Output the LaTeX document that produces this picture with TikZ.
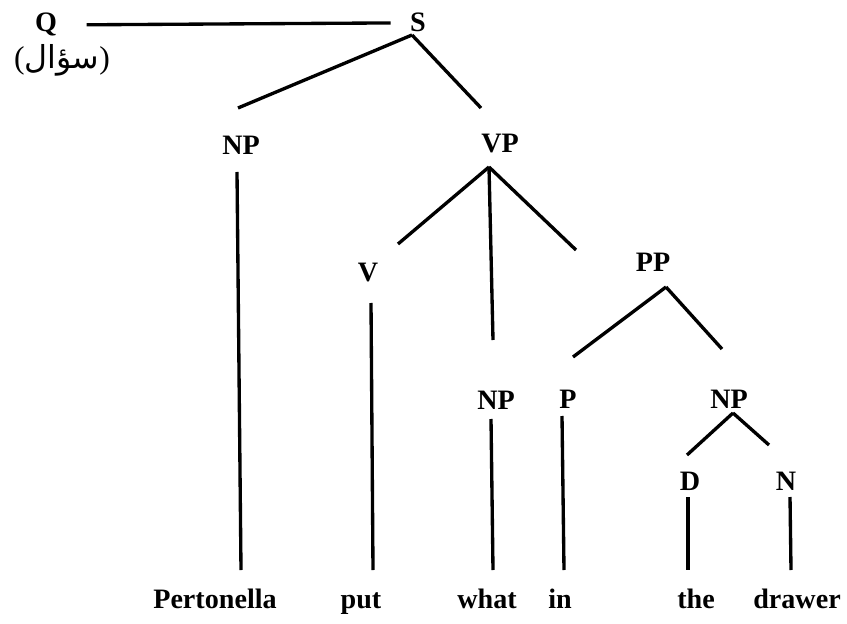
\documentclass[tikz,border=0pt]{standalone}
\usepackage{fontspec}
\setmainfont{Liberation Serif}
\newfontfamily\arabicfont[Script=Arabic]{DejaVu Sans}
\TeXXeTstate=1
\usetikzlibrary{positioning}

\begin{document}
\begin{tikzpicture}[x=0.02cm, y=-0.02cm, line width=1.9pt,
    cat/.style={font=\fontsize{16}{19}\selectfont\bfseries, anchor=base, inner sep=0pt},
    word/.style={font=\fontsize{16}{19}\selectfont\bfseries, anchor=base, inner sep=0pt}]
    \useasboundingbox (0, 0) rectangle (847, 624);

    \node[cat] (Q) at (46, 32) {Q};
    \node[font=\fontsize{18}{21}\selectfont, inner sep=0pt] (Qgloss) at (62, 60) {({\arabicfont\beginR سؤال\endR})};
    \node[cat] (S) at (418, 32) {S};

    \node[cat] (NPsubj) at (241, 155) {NP};
    \node[cat] (VP) at (500, 153) {VP};
    \node[cat] (V) at (368, 282) {V};
    \node[cat] (PP) at (653, 272) {PP};
    \node[cat] (NPobj) at (496, 409) {NP};
    \node[cat] (P) at (568, 408) {P};
    \node[cat] (NPdet) at (729, 408) {NP};
    \node[cat] (D) at (690, 490) {D};
    \node[cat] (N) at (786, 490) {N};

    \node[word] (wPertonella) at (215, 608) {Pertonella};
    \node[word] (wput) at (361, 608) {put};
    \node[word] (wwhat) at (487, 608) {what};
    \node[word] (win) at (560, 608) {in};
    \node[word] (wthe) at (696, 608) {the};
    \node[word] (wdrawer) at (797, 608) {drawer};

    % branch points and free ends
    \coordinate (Sfoot) at (412, 35);
    \coordinate (NPsubjup) at (238, 108);
    \coordinate (VPup) at (481, 108);
    \coordinate (VPfoot) at (489, 167);
    \coordinate (Vup) at (398, 244);
    \coordinate (NPobjup) at (493, 340);
    \coordinate (PPup) at (576, 250);
    \coordinate (PPfoot) at (666, 287);
    \coordinate (Pup) at (573, 357);
    \coordinate (NPdetup) at (722, 349);
    \coordinate (NPdetfoot) at (733, 413);
    \coordinate (Dup) at (687, 455);
    \coordinate (Nup) at (769, 445);

    \coordinate (NPsubjfoot) at (237, 172);
    \coordinate (Vfoot) at (371, 303);
    \coordinate (NPobjfoot) at (491, 419);
    \coordinate (Pfoot) at (562, 416);
    \coordinate (Dfoot) at (688, 497);
    \coordinate (Nfoot) at (790, 497);

    \coordinate (Pertonellaup) at (241, 570);
    \coordinate (putup) at (373, 570);
    \coordinate (whatup) at (493, 570);
    \coordinate (inup) at (564, 570);
    \coordinate (theup) at (688, 570);
    \coordinate (drawerup) at (791, 570);

    \draw[shorten <=0.56cm, shorten >=0.36cm] (Q.east) -- (S.west);

    \draw (Sfoot) -- (NPsubjup);
    \draw (Sfoot) -- (VPup);

    \draw (VPfoot) -- (Vup);
    \draw (VPfoot) -- (NPobjup);
    \draw (VPfoot) -- (PPup);

    \draw (PPfoot) -- (Pup);
    \draw (PPfoot) -- (NPdetup);

    \draw (NPdetfoot) -- (Dup);
    \draw (NPdetfoot) -- (Nup);

    \draw (NPsubjfoot) -- (Pertonellaup);
    \draw (Vfoot) -- (putup);
    \draw (NPobjfoot) -- (whatup);
    \draw (Pfoot) -- (inup);
    \draw (Dfoot) -- (theup);
    \draw (Nfoot) -- (drawerup);
\end{tikzpicture}
\end{document}
